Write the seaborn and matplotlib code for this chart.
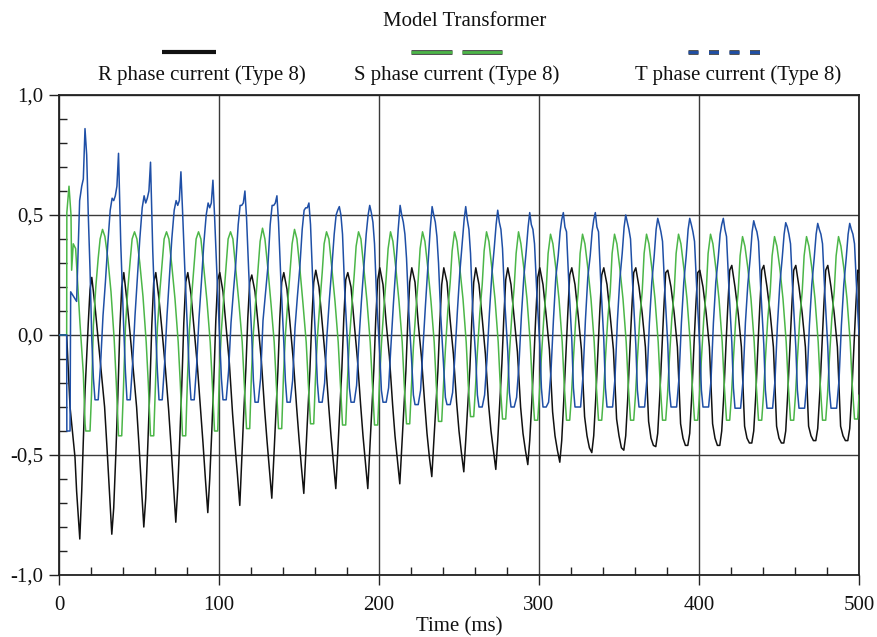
import numpy as np
import pandas as pd
import seaborn as sns
import matplotlib
matplotlib.use("Agg")
import matplotlib.pyplot as plt
from matplotlib.lines import Line2D
from matplotlib.ticker import MultipleLocator, FuncFormatter
import matplotlib.patheffects as pe

# ---------------- data ----------------
period = 20.0  # ms, one mains cycle
series_names = ["R phase current (Type 8)", "S phase current (Type 8)", "T phase current (Type 8)"]
title = "Model Transformer"
x_label = "Time (ms)"

# R phase (black): first cycle, then one row per cycle at fixed phase offsets
R_first_t = [0, 4.8, 6.9, 9.0, 10.0, 11.0, 13.0, 14.2, 15.2, 16.3, 18.3, 19.4]
R_first_v = [0, 0, -0.30, -0.44, -0.51, -0.65, -0.85, -0.65, -0.44, -0.23, 0.05, 0.19]
R_phase = [0.5, 2.5, 4.5, 6.5, 8.5, 10, 11.5, 13, 14.2, 15.5, 16.8, 18, 19.2]
R_rows = [
    [0.24, 0.12, -0.02, -0.16, -0.30, -0.47, -0.65, -0.83, -0.72, -0.50, -0.25, 0.02, 0.20],
    [0.26, 0.14, 0.00, -0.15, -0.30, -0.46, -0.63, -0.80, -0.68, -0.46, -0.22, 0.04, 0.22],
    [0.26, 0.15, 0.01, -0.14, -0.31, -0.46, -0.62, -0.78, -0.64, -0.43, -0.20, 0.05, 0.22],
    [0.26, 0.17, 0.02, -0.13, -0.31, -0.45, -0.60, -0.74, -0.60, -0.40, -0.18, 0.06, 0.23],
    [0.26, 0.18, 0.03, -0.12, -0.33, -0.46, -0.58, -0.71, -0.52, -0.32, -0.14, 0.07, 0.22],
    [0.25, 0.18, 0.04, -0.11, -0.31, -0.44, -0.56, -0.68, -0.52, -0.33, -0.15, 0.07, 0.22],
    [0.26, 0.19, 0.04, -0.11, -0.30, -0.43, -0.55, -0.66, -0.50, -0.32, -0.15, 0.06, 0.22],
    [0.27, 0.20, 0.05, -0.10, -0.29, -0.42, -0.53, -0.64, -0.49, -0.31, -0.14, 0.07, 0.23],
    [0.26, 0.20, 0.05, -0.10, -0.29, -0.42, -0.53, -0.64, -0.48, -0.31, -0.14, 0.07, 0.23],
    [0.28, 0.21, 0.05, -0.09, -0.29, -0.42, -0.52, -0.62, -0.47, -0.31, -0.15, 0.06, 0.22],
    [0.28, 0.22, 0.05, -0.09, -0.28, -0.41, -0.51, -0.59, -0.45, -0.30, -0.15, 0.05, 0.21],
    [0.28, 0.22, 0.06, -0.08, -0.28, -0.40, -0.49, -0.57, -0.44, -0.29, -0.14, 0.06, 0.22],
    [0.28, 0.21, 0.07, -0.08, -0.29, -0.40, -0.48, -0.56, -0.44, -0.28, -0.12, 0.07, 0.23],
    [0.28, 0.21, 0.07, -0.07, -0.30, -0.41, -0.48, -0.54, -0.44, -0.28, -0.10, 0.08, 0.24],
    [0.28, 0.21, 0.08, -0.06, -0.32, -0.42, -0.48, -0.53, -0.44, -0.27, -0.08, 0.09, 0.25],
    [0.28, 0.21, 0.08, -0.06, -0.34, -0.42, -0.47, -0.49, -0.42, -0.26, -0.07, 0.10, 0.25],
    [0.28, 0.21, 0.08, -0.06, -0.35, -0.42, -0.47, -0.48, -0.42, -0.26, -0.06, 0.11, 0.26],
    [0.28, 0.20, 0.09, -0.05, -0.36, -0.43, -0.46, -0.465, -0.41, -0.25, -0.06, 0.11, 0.26],
    [0.27, 0.20, 0.09, -0.05, -0.37, -0.43, -0.46, -0.46, -0.41, -0.25, -0.05, 0.12, 0.26],
    [0.27, 0.20, 0.09, -0.05, -0.37, -0.43, -0.46, -0.46, -0.40, -0.25, -0.05, 0.12, 0.27],
    [0.29, 0.20, 0.09, -0.05, -0.38, -0.43, -0.45, -0.45, -0.40, -0.25, -0.05, 0.12, 0.27],
    [0.29, 0.20, 0.09, -0.05, -0.38, -0.43, -0.45, -0.45, -0.40, -0.24, -0.05, 0.12, 0.27],
    [0.29, 0.20, 0.09, -0.05, -0.38, -0.42, -0.44, -0.44, -0.39, -0.24, -0.05, 0.12, 0.27],
    [0.29, 0.20, 0.09, -0.05, -0.38, -0.42, -0.44, -0.44, -0.39, -0.24, -0.05, 0.12, 0.27],
]
R_end = 0.26

# S phase (green)
S_first_t = [0, 4.8, 4.9, 6.25, 7.5, 7.9, 8.9, 10.4, 11.0, 13.1, 15.2, 16.3, 16.7, 19.4]
S_first_v = [0, 0, 0.51, 0.62, 0.50, 0.27, 0.38, 0.36, 0.29, 0.05, -0.16, -0.37, -0.40, -0.40]
S_phase = [0.3, 1.5, 3, 4.5, 5.7, 7.2, 8.7, 10.5, 12.5, 14.5, 15.8, 17.2, 19.2]
S_rows = [
    [-0.25, 0.04, 0.20, 0.32, 0.40, 0.44, 0.41, 0.32, 0.18, -0.02, -0.20, -0.42, -0.42],
    [-0.22, 0.03, 0.19, 0.31, 0.40, 0.43, 0.40, 0.30, 0.16, -0.03, -0.20, -0.42, -0.42],
    [-0.20, 0.03, 0.18, 0.30, 0.40, 0.43, 0.40, 0.29, 0.15, -0.03, -0.20, -0.42, -0.42],
    [-0.18, 0.02, 0.17, 0.30, 0.40, 0.43, 0.40, 0.28, 0.14, -0.03, -0.20, -0.40, -0.40],
    [-0.15, 0.02, 0.16, 0.29, 0.40, 0.43, 0.40, 0.27, 0.13, -0.03, -0.20, -0.39, -0.39],
    [-0.16, 0.01, 0.15, 0.28, 0.39, 0.445, 0.40, 0.28, 0.13, -0.03, -0.20, -0.39, -0.39],
    [-0.17, 0.00, 0.14, 0.27, 0.38, 0.44, 0.40, 0.28, 0.13, -0.03, -0.20, -0.37, -0.37],
    [-0.18, -0.01, 0.13, 0.26, 0.38, 0.43, 0.40, 0.28, 0.14, -0.03, -0.20, -0.375, -0.375],
    [-0.19, -0.02, 0.12, 0.25, 0.37, 0.43, 0.40, 0.28, 0.14, -0.03, -0.20, -0.375, -0.375],
    [-0.20, -0.04, 0.11, 0.24, 0.36, 0.43, 0.39, 0.28, 0.14, -0.03, -0.21, -0.37, -0.37],
    [-0.21, -0.05, 0.10, 0.23, 0.36, 0.43, 0.39, 0.28, 0.14, -0.03, -0.21, -0.36, -0.36],
    [-0.21, -0.06, 0.10, 0.22, 0.35, 0.43, 0.39, 0.28, 0.15, -0.03, -0.21, -0.34, -0.34],
    [-0.22, -0.07, 0.09, 0.21, 0.35, 0.43, 0.39, 0.28, 0.15, -0.03, -0.21, -0.35, -0.35],
    [-0.23, -0.08, 0.08, 0.20, 0.34, 0.43, 0.38, 0.28, 0.15, -0.03, -0.21, -0.355, -0.355],
    [-0.24, -0.09, 0.07, 0.19, 0.34, 0.42, 0.38, 0.28, 0.15, -0.03, -0.21, -0.355, -0.355],
    [-0.25, -0.10, 0.07, 0.18, 0.34, 0.42, 0.38, 0.28, 0.15, -0.03, -0.21, -0.355, -0.355],
    [-0.25, -0.10, 0.07, 0.18, 0.34, 0.42, 0.38, 0.28, 0.15, -0.03, -0.21, -0.355, -0.355],
    [-0.25, -0.10, 0.07, 0.18, 0.34, 0.42, 0.38, 0.28, 0.15, -0.03, -0.21, -0.355, -0.355],
    [-0.25, -0.10, 0.07, 0.18, 0.34, 0.42, 0.38, 0.28, 0.15, -0.03, -0.21, -0.355, -0.355],
    [-0.25, -0.10, 0.07, 0.18, 0.34, 0.42, 0.38, 0.28, 0.15, -0.03, -0.21, -0.355, -0.355],
    [-0.25, -0.10, 0.07, 0.18, 0.33, 0.41, 0.37, 0.28, 0.15, -0.03, -0.21, -0.355, -0.355],
    [-0.25, -0.10, 0.07, 0.18, 0.33, 0.41, 0.37, 0.28, 0.15, -0.03, -0.21, -0.355, -0.355],
    [-0.25, -0.10, 0.07, 0.18, 0.33, 0.41, 0.37, 0.28, 0.15, -0.03, -0.21, -0.355, -0.355],
    [-0.25, -0.10, 0.07, 0.18, 0.33, 0.41, 0.37, 0.28, 0.15, -0.03, -0.21, -0.35, -0.35],
]
S_end = -0.25

# T phase (blue)
T_first_t = [0, 4.8, 4.9, 6.9, 7.3, 11.0, 12.9, 14.2, 15.2, 16.25, 17.3, 18.3, 19.4]
T_first_v = [0, 0, -0.40, -0.40, 0.18, 0.14, 0.56, 0.62, 0.65, 0.86, 0.75, 0.50, 0.27]
T_phase = [0.5, 1.5, 2.5, 4.5, 6, 7.5, 9, 10.5, 12, 13.2, 14.2, 15.2, 16.2, 17.2, 18.6]
T_rows = [
    [-0.02, -0.18, -0.27, -0.27, -0.12, 0.08, 0.22, 0.38, 0.52, 0.57, 0.56, 0.58, 0.62, 0.757, 0.38],
    [0.02, -0.15, -0.27, -0.27, -0.12, 0.08, 0.24, 0.40, 0.53, 0.58, 0.55, 0.57, 0.60, 0.72, 0.35],
    [0.00, -0.15, -0.27, -0.27, -0.12, 0.08, 0.24, 0.40, 0.52, 0.56, 0.54, 0.56, 0.68, 0.52, 0.28],
    [-0.02, -0.17, -0.27, -0.27, -0.13, 0.07, 0.22, 0.38, 0.50, 0.55, 0.53, 0.55, 0.645, 0.50, 0.27],
    [-0.03, -0.18, -0.27, -0.27, -0.15, 0.05, 0.18, 0.30, 0.46, 0.54, 0.54, 0.55, 0.60, 0.49, 0.26],
    [-0.01, -0.19, -0.28, -0.28, -0.18, 0.06, 0.17, 0.28, 0.46, 0.54, 0.54, 0.55, 0.58, 0.47, 0.24],
    [-0.03, -0.19, -0.28, -0.28, -0.19, 0.03, 0.16, 0.28, 0.44, 0.52, 0.53, 0.53, 0.55, 0.46, 0.22],
    [-0.04, -0.20, -0.28, -0.28, -0.20, 0.00, 0.15, 0.28, 0.42, 0.50, 0.52, 0.535, 0.50, 0.42, 0.18],
    [-0.06, -0.22, -0.28, -0.28, -0.21, -0.02, 0.14, 0.28, 0.42, 0.50, 0.54, 0.51, 0.47, 0.38, 0.14],
    [-0.08, -0.23, -0.28, -0.28, -0.22, -0.04, 0.13, 0.28, 0.44, 0.54, 0.50, 0.47, 0.42, 0.32, 0.10],
    [-0.12, -0.25, -0.29, -0.29, -0.23, -0.05, 0.12, 0.28, 0.44, 0.535, 0.50, 0.47, 0.41, 0.30, 0.08],
    [-0.14, -0.26, -0.29, -0.29, -0.24, -0.08, 0.10, 0.26, 0.38, 0.48, 0.535, 0.48, 0.44, 0.34, 0.10],
    [-0.10, -0.25, -0.30, -0.30, -0.25, -0.10, 0.09, 0.25, 0.36, 0.46, 0.52, 0.47, 0.44, 0.36, 0.14],
    [-0.07, -0.24, -0.30, -0.30, -0.26, -0.12, 0.08, 0.24, 0.35, 0.45, 0.51, 0.46, 0.44, 0.38, 0.18],
    [-0.04, -0.22, -0.30, -0.30, -0.28, -0.15, 0.06, 0.24, 0.33, 0.43, 0.48, 0.51, 0.45, 0.43, 0.22],
    [-0.02, -0.22, -0.30, -0.30, -0.30, -0.17, 0.06, 0.24, 0.33, 0.43, 0.48, 0.51, 0.45, 0.43, 0.22],
    [-0.02, -0.22, -0.30, -0.30, -0.30, -0.18, 0.06, 0.23, 0.34, 0.45, 0.50, 0.47, 0.44, 0.40, 0.20],
    [-0.04, -0.23, -0.30, -0.30, -0.30, -0.18, 0.05, 0.22, 0.33, 0.44, 0.486, 0.46, 0.43, 0.39, 0.19],
    [-0.04, -0.23, -0.30, -0.30, -0.30, -0.18, 0.05, 0.22, 0.33, 0.44, 0.486, 0.46, 0.43, 0.39, 0.19],
    [-0.05, -0.23, -0.30, -0.30, -0.30, -0.19, 0.05, 0.22, 0.32, 0.42, 0.46, 0.486, 0.44, 0.41, 0.21],
    [-0.03, -0.22, -0.305, -0.305, -0.305, -0.19, 0.05, 0.21, 0.32, 0.43, 0.476, 0.45, 0.43, 0.39, 0.19],
    [-0.04, -0.23, -0.305, -0.305, -0.305, -0.19, 0.04, 0.21, 0.32, 0.42, 0.468, 0.45, 0.42, 0.38, 0.18],
    [-0.05, -0.23, -0.305, -0.305, -0.305, -0.19, 0.04, 0.21, 0.32, 0.42, 0.465, 0.44, 0.42, 0.38, 0.18],
    [-0.05, -0.23, -0.305, -0.305, -0.305, -0.19, 0.04, 0.21, 0.32, 0.42, 0.465, 0.44, 0.42, 0.38, 0.18],
]
T_end = 0.0

x_ticks = [0, 100, 200, 300, 400, 500]
y_ticks = [-1.0, -0.5, 0.0, 0.5, 1.0]
colors = {"R": "#111111", "S": "#4cb648", "T": "#1f4fa6"}


def assemble(first_t, first_v, phase, rows, end_v):
    t, v = list(first_t), list(first_v)
    for k, row in enumerate(rows, start=1):
        for o, val in zip(phase, row):
            t.append(k * period + o)
            v.append(val)
    t.append(500.0)
    v.append(end_v)
    return t, v


frames = []
for key, parts in [("R", (R_first_t, R_first_v, R_phase, R_rows, R_end)),
                   ("S", (S_first_t, S_first_v, S_phase, S_rows, S_end)),
                   ("T", (T_first_t, T_first_v, T_phase, T_rows, T_end))]:
    tt, vv = assemble(*parts)
    frames.append(pd.DataFrame({"time": tt, "current": vv, "phase": key}))
df = pd.concat(frames, ignore_index=True)

# ---------------- figure ----------------
sns.set_theme(style="white")
plt.rcParams["font.family"] = ["Liberation Serif", "DejaVu Serif"]

W, H = 878, 637
fig = plt.figure(figsize=(W / 100, H / 100), dpi=100)
ax = fig.add_axes([59 / W, 1 - 575 / H, 800 / W, 480 / H])

sns.lineplot(data=df, x="time", y="current", hue="phase", palette=colors,
             hue_order=["R", "S", "T"], estimator=None, sort=False,
             linewidth=1.1, legend=False, ax=ax, zorder=3)

ax.set_xlim(0, 500)
ax.set_ylim(-1.0, 1.0)
ax.set_xticks(x_ticks)
ax.set_yticks(y_ticks)
ax.xaxis.set_minor_locator(MultipleLocator(20))
ax.yaxis.set_minor_locator(MultipleLocator(0.1))
ax.yaxis.set_major_formatter(FuncFormatter(lambda v, p: f"{v:.1f}".replace(".", ",")))
ax.xaxis.set_major_formatter(FuncFormatter(lambda v, p: f"{int(round(v))}"))

ax.tick_params(axis="both", which="major", direction="out", length=7, width=1.0,
               color="#222222", labelsize=15, labelcolor="#111111",
               bottom=True, left=True, top=False, right=False)
ax.tick_params(axis="x", which="major", pad=8)
ax.tick_params(axis="y", which="major", pad=4)
ax.tick_params(axis="both", which="minor", direction="in", length=6, width=1.0,
               color="#222222", bottom=True, left=True, top=False, right=False)

ax.grid(True, which="major", color="#3a3a3a", linewidth=1.0)
ax.set_axisbelow(True)
for s in ax.spines.values():
    s.set_color("#222222")
    s.set_linewidth(1.3)

ax.set_xlabel(x_label, fontsize=15, labelpad=2, color="#111111")
ax.set_ylabel("")

# title and legend (sample line above each label)
def fx(px):
    return px / W

def fy(py):
    return 1 - py / H

fig.text(fx(465), fy(21), title, ha="center", va="center", fontsize=15, color="#111111")

ly = fy(52)
fig.add_artist(Line2D([fx(162), fx(216)], [ly, ly], color=colors["R"], lw=3.0,
                      solid_capstyle="butt", transform=fig.transFigure))
outline = [pe.Stroke(linewidth=3.6, foreground="#555555"), pe.Normal()]
fig.add_artist(Line2D([fx(411), fx(502)], [ly, ly], color=colors["S"], lw=2.0,
                      dashes=(41 / 2.0 * 0.72, 10 / 2.0 * 0.72), dash_capstyle="butt",
                      path_effects=outline, transform=fig.transFigure))
fig.add_artist(Line2D([fx(688), fx(760)], [ly, ly], color=colors["T"], lw=2.0,
                      dashes=(10 / 2.0 * 0.72, 10.5 / 2.0 * 0.72), dash_capstyle="butt",
                      path_effects=outline, transform=fig.transFigure))

for name, cx in zip(series_names, [202, 457, 738]):
    fig.text(fx(cx), fy(75), name, ha="center", va="center", fontsize=15, color="#111111")

fig.savefig("out.png", dpi=100)
